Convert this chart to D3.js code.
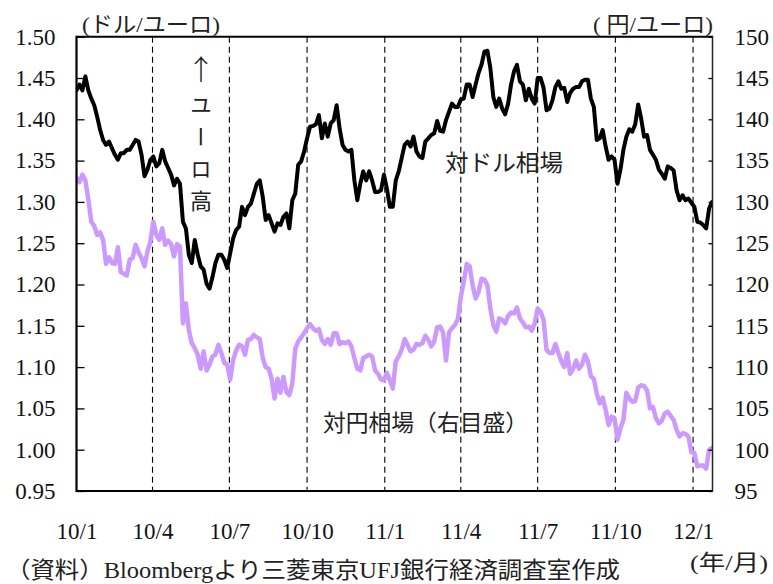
<!DOCTYPE html>
<html>
<head>
<meta charset="utf-8">
<script src="https://cdn.jsdelivr.net/npm/d3@7"></script>
<style>
  html, body { margin: 0; padding: 0; background: #fff; }
  svg { display: block; }
</style>
</head>
<body>
<svg id="chart" width="773" height="584"></svg>
<script>
// ---- data: readings every half week (3.5 days) from 2010-01-01 ----
const startDate = "2010-01-01";
const endDate = "2012-01-24";
const stepHours = 84;

// EUR/USD (ドル/ユーロ, left axis)
const usdValues = [
  1.435, 1.442, 1.435, 1.452, 1.435, 1.425, 1.417, 1.403, 1.387, 1.375,
  1.369, 1.373, 1.365, 1.357, 1.351, 1.359, 1.359, 1.363, 1.363, 1.369,
  1.375, 1.373, 1.357, 1.331, 1.339, 1.351, 1.355, 1.343, 1.347, 1.363,
  1.349, 1.341, 1.333, 1.320, 1.328, 1.322, 1.276, 1.268, 1.236, 1.226,
  1.254, 1.236, 1.222, 1.218, 1.201, 1.195, 1.209, 1.226, 1.236, 1.236,
  1.230, 1.220, 1.238, 1.256, 1.266, 1.270, 1.294, 1.284, 1.294, 1.298,
  1.310, 1.322, 1.326, 1.306, 1.278, 1.284, 1.274, 1.264, 1.274, 1.272,
  1.282, 1.286, 1.268, 1.302, 1.310, 1.345, 1.349, 1.361, 1.377, 1.391,
  1.392, 1.394, 1.405, 1.377, 1.395, 1.379, 1.395, 1.399, 1.417, 1.389,
  1.369, 1.363, 1.361, 1.363, 1.326, 1.302, 1.322, 1.337, 1.326, 1.337,
  1.326, 1.312, 1.312, 1.314, 1.333, 1.316, 1.294, 1.294, 1.326, 1.337,
  1.353, 1.369, 1.373, 1.367, 1.379, 1.361, 1.355, 1.353, 1.373, 1.377,
  1.381, 1.383, 1.398, 1.386, 1.385, 1.399, 1.409, 1.419, 1.415, 1.415,
  1.424, 1.425, 1.442, 1.442, 1.427, 1.442, 1.456, 1.466, 1.482, 1.483,
  1.462, 1.427, 1.415, 1.425, 1.413, 1.406, 1.419, 1.442, 1.458, 1.466,
  1.446, 1.442, 1.423, 1.437, 1.425, 1.419, 1.450, 1.450, 1.438, 1.411,
  1.413, 1.423, 1.439, 1.446, 1.437, 1.438, 1.421, 1.432, 1.437, 1.439,
  1.439, 1.446, 1.448, 1.448, 1.425, 1.415, 1.375, 1.377, 1.387, 1.367,
  1.351, 1.355, 1.351, 1.322, 1.339, 1.363, 1.379, 1.388, 1.385, 1.394,
  1.418, 1.401, 1.379, 1.381, 1.363, 1.357, 1.351, 1.339, 1.334, 1.328,
  1.343, 1.341, 1.338, 1.314, 1.302, 1.308, 1.302, 1.304, 1.299, 1.294,
  1.276, 1.275, 1.272, 1.268, 1.292, 1.300, 1.302
];

// EUR/JPY (円/ユーロ, right axis)
const jpyValues = [
  132.9, 132.4, 133.3, 132.6, 130.3, 127.6, 127.1, 126.0, 126.3, 125.4,
  122.5, 123.3, 122.6, 122.5, 124.5, 121.5, 121.3, 121.1, 123.0, 123.2,
  124.8, 123.9, 123.2, 122.2, 124.0, 125.2, 127.6, 126.0, 125.4, 126.8,
  124.8, 125.3, 124.9, 123.4, 124.9, 124.6, 115.3, 117.7, 114.5, 112.9,
  112.3, 111.5, 109.8, 111.9, 109.6, 110.3, 111.3, 111.5, 112.7, 111.7,
  110.5, 110.3, 108.5, 110.9, 112.0, 112.7, 112.5, 111.5, 113.3, 113.4,
  113.9, 113.6, 113.4, 111.1, 110.0, 109.8, 108.6, 106.2, 108.6, 106.9,
  108.8, 107.0, 106.6, 108.0, 112.2, 113.1, 113.6, 114.1, 114.7, 115.2,
  114.7, 114.4, 114.6, 113.3, 112.8, 113.4, 112.7, 114.1, 114.1, 112.8,
  113.0, 112.9, 113.1, 112.5, 111.1, 109.8, 109.6, 111.1, 111.3, 111.5,
  111.3, 109.6, 109.2, 108.5, 108.4, 109.3, 108.4, 107.4, 110.7, 111.3,
  112.1, 113.4, 112.7, 111.9, 112.1, 112.8, 112.7, 112.9, 113.8, 113.3,
  112.5, 113.1, 114.8, 114.9, 114.2, 110.8, 114.2, 114.7, 115.1, 115.8,
  118.5, 120.3, 122.5, 122.2, 119.9, 118.3, 119.1, 120.7, 120.6, 119.9,
  117.1, 115.1, 114.3, 115.9, 115.7, 115.3, 116.2, 116.6, 116.5, 117.2,
  115.9, 115.4, 114.8, 114.9, 114.4, 115.3, 117.1, 116.7, 115.7, 112.1,
  111.7, 111.7, 112.8, 111.7, 110.7, 110.0, 111.7, 109.2, 109.8, 110.8,
  109.8, 110.3, 111.5, 110.7, 108.9, 108.6, 106.8, 105.6, 106.3, 104.8,
  103.0, 104.0, 103.8, 101.2, 102.6, 103.6, 106.9, 106.2, 105.8, 105.9,
  107.5, 107.8, 107.7, 107.2, 105.0, 105.2, 103.8, 103.2, 103.5, 104.4,
  104.6, 104.1, 103.6, 102.4, 101.6, 102.0, 101.9, 101.6, 99.7, 99.6,
  98.0, 98.1, 98.1, 97.7, 100.0, 100.2, 100.4
];

const quarterTicks = ["2010-01-01","2010-04-01","2010-07-01","2010-10-01","2011-01-01",
                      "2011-04-01","2011-07-01","2011-10-01","2012-01-01"];
const leftTicks = [0.95, 1.00, 1.05, 1.10, 1.15, 1.20, 1.25, 1.30, 1.35, 1.40, 1.45, 1.50];
const rightTicks = [95, 100, 105, 110, 115, 120, 125, 130, 135, 140, 145, 150];

// ---- layout ----
const NUMFONT = '"Liberation Serif", "Times New Roman", serif';
const JPFONT = '"Liberation Serif", "Noto Sans CJK JP", serif';
const svg = d3.select("#chart");
const L = 76.5, R = 712.5, T = 36.7, B = 491;
const parse = d3.timeParse("%Y-%m-%d");
const t0 = parse(startDate);
const dates = usdValues.map((_, i) => d3.timeHour.offset(t0, stepHours * i));

const x = d3.scaleTime().domain([t0, parse(endDate)]).range([L, R]);
const yL = d3.scaleLinear().domain([0.95, 1.50]).range([B, T]);
const yR = d3.scaleLinear().domain([95, 150]).range([B, T]);

svg.append("defs").append("clipPath").attr("id", "plot")
  .append("rect").attr("x", L).attr("y", T - 5).attr("width", R - L).attr("height", B - T + 5);

// dashed quarter lines
const qDates = quarterTicks.map(parse);
svg.append("g").selectAll("line").data(qDates.slice(1)).join("line")
  .attr("x1", d => x(d)).attr("x2", d => x(d))
  .attr("y1", T).attr("y2", B)
  .attr("stroke", "#000").attr("stroke-width", 1.1).attr("stroke-dasharray", "6,4");

// lines
const lineJ = d3.line().x((d, i) => x(dates[i])).y(d => yR(d));
const lineU = d3.line().x((d, i) => x(dates[i])).y(d => yL(d));
const g = svg.append("g").attr("clip-path", "url(#plot)");
g.append("path").datum(jpyValues).attr("d", lineJ)
  .attr("fill", "none").attr("stroke", "#cc99ff").attr("stroke-width", 4.5)
  .attr("stroke-linejoin", "round").attr("stroke-linecap", "round");
g.append("path").datum(usdValues).attr("d", lineU)
  .attr("fill", "none").attr("stroke", "#000").attr("stroke-width", 4)
  .attr("stroke-linejoin", "round").attr("stroke-linecap", "round");

function styleNum(sel) {
  sel.style("font-family", NUMFONT).style("font-size", "23px").attr("fill", "#111");
}

// axes
const axL = svg.append("g").attr("transform", `translate(${L},0)`)
  .call(d3.axisLeft(yL).tickValues(leftTicks).tickSize(-8).tickFormat(d3.format(".2f")).tickPadding(21));
axL.select(".domain").remove();
axL.selectAll("line").attr("stroke", "#000").attr("stroke-width", 1.3);
axL.selectAll("text").call(styleNum);

const axR = svg.append("g").attr("transform", `translate(${R},0)`)
  .call(d3.axisRight(yR).tickValues(rightTicks).tickSize(-4).tickFormat(d3.format("d")).tickPadding(22));
axR.select(".domain").remove();
axR.selectAll("line").attr("stroke", "#000").attr("stroke-width", 1.3);
axR.selectAll("text").call(styleNum);

const axB = svg.append("g").attr("transform", `translate(0,${B})`)
  .call(d3.axisBottom(x).tickValues(qDates).tickSize(0).tickFormat(d3.timeFormat("%y/%-m")).tickPadding(32));
axB.select(".domain").remove();
axB.selectAll("text").call(styleNum);

// frame
svg.append("line").attr("x1", L).attr("x2", R).attr("y1", T).attr("y2", T).attr("stroke", "#000").attr("stroke-width", 2);
svg.append("line").attr("x1", L).attr("x2", R).attr("y1", B).attr("y2", B).attr("stroke", "#000").attr("stroke-width", 2.2);
svg.append("line").attr("x1", L).attr("x2", L).attr("y1", T - 1).attr("y2", B + 1).attr("stroke", "#000").attr("stroke-width", 2.2);
svg.append("line").attr("x1", R).attr("x2", R).attr("y1", T - 1).attr("y2", B + 1).attr("stroke", "#222").attr("stroke-width", 1.5);

// labels
function jp(xp, yp, size, txt) {
  return svg.append("text").attr("x", xp).attr("y", yp)
    .style("font-family", JPFONT).style("font-size", size + "px").attr("fill", "#222").text(txt);
}
jp(82, 32, 22, "(ドル/ユーロ)").attr("textLength", 138).attr("lengthAdjust", "spacingAndGlyphs");
jp(593, 32, 22, "( 円/ユーロ)").attr("textLength", 120).attr("lengthAdjust", "spacingAndGlyphs");
jp(445, 171, 23, "対ドル相場").attr("textLength", 118).attr("lengthAdjust", "spacingAndGlyphs");
jp(323, 431, 22.5, "対円相場（右目盛）").attr("textLength", 205).attr("lengthAdjust", "spacingAndGlyphs");
svg.append("text").attr("x", 201).attr("y", 80).attr("text-anchor", "middle")
  .style("font-family", '"Noto Sans CJK JP", sans-serif').style("font-size", "28px")
  .style("font-weight", 300).attr("fill", "#222").text("↑");
svg.append("text").attr("x", 201).attr("y", 94)
  .style("font-family", '"Noto Sans CJK JP", sans-serif').style("font-size", "22px")
  .style("writing-mode", "vertical-rl").attr("letter-spacing", 10).attr("fill", "#222").text("ユーロ高");
jp(6, 578, 22.5, "（資料）Bloombergより三菱東京UFJ銀行経済調査室作成")
  .attr("textLength", 614).attr("lengthAdjust", "spacingAndGlyphs");
jp(690, 570, 22, "(年/月)").attr("textLength", 78).attr("lengthAdjust", "spacingAndGlyphs");
</script>
</body>
</html>
